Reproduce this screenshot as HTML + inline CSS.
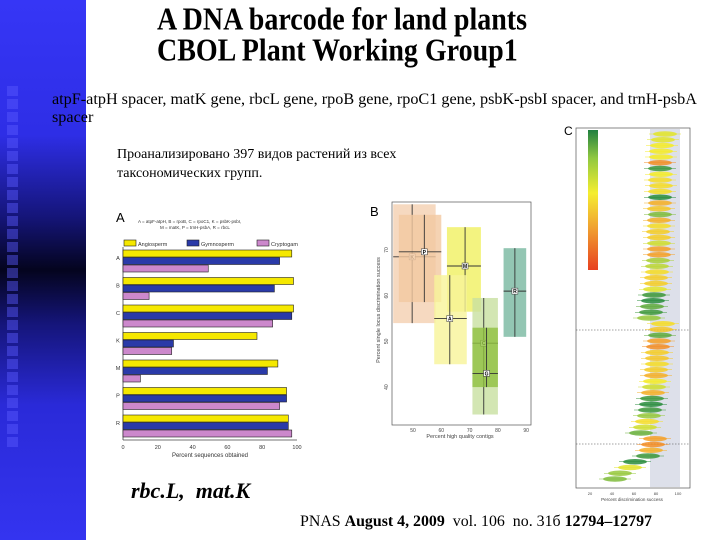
<!DOCTYPE html>
<html><head><meta charset="utf-8"><style>
body{margin:0;width:720px;height:540px;position:relative;background:#fff;overflow:hidden;font-family:"Liberation Serif",serif}
.t{position:absolute;white-space:nowrap}
</style></head><body>
<div style="position:absolute;left:0;top:0;width:86px;height:540px;background:linear-gradient(180deg,#3636f6 0%,#2e2ee6 25%,#15157a 40%,#04041e 50%,#15157a 60%,#2a2ad8 75%,#3434f0 100%)"></div>
<svg width="86" height="540" style="position:absolute;left:0;top:0" id="sq"></svg>
<div class="t" style="left:157px;top:2px;font-size:28px;font-weight:bold;transform:scaleY(1.15);transform-origin:0 0">A DNA barcode for land plants</div>
<div class="t" style="left:157px;top:33px;font-size:28px;font-weight:bold;transform:scaleY(1.15);transform-origin:0 0">CBOL Plant Working Group1</div>
<div class="t" style="left:52px;top:90px;font-size:16.2px;line-height:18px;color:#000">atpF-atpH spacer, matK gene, rbcL gene, rpoB gene, rpoC1 gene, psbK-psbI spacer, and trnH-psbA<br>spacer</div>
<div class="t" style="left:117px;top:145px;font-size:14px;line-height:19px;font-family:'Liberation Serif','Noto Serif CJK SC',serif">Проанализировано 397 видов растений из всех<br>таксономических групп.</div>
<div class="t" style="left:131px;top:478px;font-size:22px;font-weight:bold;font-style:italic">rbc.L,&nbsp; mat.K</div>
<div class="t" style="left:300px;top:513px;font-size:15.9px">PNAS <b>August 4, 2009</b> &nbsp;vol. 106 &nbsp;no. 31б <b>12794–12797</b></div>

<svg id="ca" width="720" height="540" style="position:absolute;left:0;top:0;font-family:'Liberation Sans',sans-serif"></svg>
<script>
const NS="http://www.w3.org/2000/svg";
function mk(p,t,a){const e=document.createElementNS(NS,t);for(const k in a)e.setAttribute(k,a[k]);p.appendChild(e);return e;}
const sq=document.getElementById('sq');
for(let y=86;y<440;y+=13){const r=mk(sq,'rect',{x:7,y:y,width:11,height:10,fill:'rgba(90,90,255,0.45)'});

}
const svg=document.getElementById('ca');

// Panel A data
const catA=['A','B','C','K','M','P','R'];
const angio=[97,98,98,77,89,94,95];
const gymno=[90,87,97,29,83,94,95];
const crypto=[49,15,86,28,10,90,97];
const ticksA=[0,20,40,60,80,100];
const ax=v=>123+v*1.74, ay=i=>250+i*27.5;
mk(svg,'text',{x:116,y:222,'font-size':13}).textContent='A';
let tt=mk(svg,'text',{x:138,y:223,'font-size':4.5,fill:'#333'});tt.textContent='A = atpF-atpH, B = rpoB, C = rpoC1, K = psbK-psbI,';
tt=mk(svg,'text',{x:160,y:229,'font-size':4.5,fill:'#333'});tt.textContent='M = matK, P = trnH-psbA, R = rbcL';
[['#f5e800','Angiosperm',124],['#2a3aa8','Gymnosperm',187],['#cc88cc','Cryptogam',257]].forEach(l=>{
 const r=mk(svg,'rect',{x:l[2],y:240,width:12,height:6,fill:l[0],stroke:'#222','stroke-width':0.6});
 
 mk(svg,'text',{x:l[2]+14,y:246,'font-size':5.5,fill:'#333'}).textContent=l[1];});
mk(svg,'line',{x1:ax(0),y1:247,x2:ax(0),y2:440,stroke:'#444','stroke-width':0.8});
mk(svg,'line',{x1:ax(0),y1:440,x2:ax(100),y2:440,stroke:'#444','stroke-width':0.8});
ticksA.forEach(t=>{mk(svg,'text',{x:ax(t),y:449,'font-size':5.5,'text-anchor':'middle',fill:'#333'}).textContent=t;});
mk(svg,'text',{x:ax(50),y:457,'font-size':6,'text-anchor':'middle',fill:'#333'}).textContent='Percent sequences obtained';
catA.forEach((c,i)=>{
 mk(svg,'text',{x:118,y:ay(i)+10,'font-size':5.5,'text-anchor':'middle',fill:'#333'}).textContent=c;
 [[angio,'#f5e800'],[gymno,'#2a3aa8'],[crypto,'#cc88cc']].forEach((s,j)=>{
  const r=mk(svg,'rect',{x:ax(0),y:ay(i)+j*7.5,width:ax(s[0][i])-ax(0),height:7,fill:s[1],stroke:'#222','stroke-width':0.6});
  
  
 });
});

// Panel B data
const genesB=['K','P','M','A','R','C','G'];
const bx=[49.7,54,68.4,63,86,75,76];
const by=[68.5,69.6,66.5,55,61,49.6,43];
const bxLo=[43,45,62,57.5,82,71,71];
const bxHi=[58,60,74,69,90,80,80];
const byLo=[54,58.6,56.5,45,51,34,40];
const byHi=[80,77.7,75,64.5,70.4,59.5,53];
const bcol=['#f4d0b0','#f2c8a0','#f0f060','#f8f498','#78b8a0','#c8e0a0','#90c040'];
const ticksBx=[50,60,70,80,90], ticksBy=[40,50,60,70];
const X=v=>413+(v-50)*2.83, Y=v=>250-(v-70)*4.57;
mk(svg,'text',{x:370,y:216,'font-size':13}).textContent='B';
mk(svg,'rect',{x:392,y:202,width:139,height:223,fill:'none',stroke:'#555','stroke-width':0.7});
ticksBx.forEach(t=>mk(svg,'text',{x:X(t),y:432,'font-size':5,'text-anchor':'middle',fill:'#444'}).textContent=t);
ticksBy.forEach(t=>{const e=mk(svg,'text',{x:388,y:Y(t),'font-size':5,'text-anchor':'middle',fill:'#444',transform:`rotate(-90 388 ${Y(t)})`});e.textContent=t;});
mk(svg,'text',{x:460,y:438,'font-size':5.5,'text-anchor':'middle',fill:'#444'}).textContent='Percent high quality contigs';
mk(svg,'text',{x:380,y:310,'font-size':5.5,'text-anchor':'middle',fill:'#444',transform:'rotate(-90 380 310)'}).textContent='Percent single locus discrimination success';
genesB.forEach((g,i)=>{
 const r=mk(svg,'rect',{x:X(bxLo[i]),y:Y(byHi[i]),width:X(bxHi[i])-X(bxLo[i]),height:Y(byLo[i])-Y(byHi[i]),fill:bcol[i],opacity:0.8});
 
 
 mk(svg,'line',{x1:X(bx[i]),y1:Y(byHi[i]),x2:X(bx[i]),y2:Y(byLo[i]),stroke:'#333','stroke-width':0.9});
 mk(svg,'line',{x1:X(bxLo[i]),y1:Y(by[i]),x2:X(bxHi[i]),y2:Y(by[i]),stroke:'#333','stroke-width':0.9});
 mk(svg,'rect',{x:X(bx[i])-3,y:Y(by[i])-3,width:6,height:6,fill:'#fff',stroke:'#333','stroke-width':0.5});
 mk(svg,'text',{x:X(bx[i]),y:Y(by[i])+2,'font-size':5,'font-weight':'bold','text-anchor':'middle'}).textContent=g;
});

// Panel C data
const cVals=[90,88,87,86,86,85,85,86,85,86,85,85,85,84,85,84,84,83,84,84,84,84,83,82,82,81,81,80,79,78,77,76,74,
 88,86,85,84,83,82,82,82,81,81,80,79,78,77,76,75,74,72,70,66,
 80,78,76,73,60,55,45,40];
const cSucc=[62,62,60,60,60,48,78,60,58,58,58,80,52,55,72,52,58,56,56,64,50,50,68,66,58,56,56,62,78,80,75,78,70,
 58,55,75,50,48,56,55,58,56,52,60,64,52,78,80,78,70,58,64,74,
 50,48,52,78,80,62,70,72];
const ticksC=[20,40,60,80,100];
const CX=v=>575+v*1.0, CY=i=>134+i*5.75;
function sc(s){const stops=[[40,[235,70,30]],[50,[245,160,40]],[60,[245,235,40]],[70,[150,200,60]],[80,[40,140,60]]];
 for(let k=0;k<stops.length-1;k++){const a=stops[k],b=stops[k+1];if(s<=b[0]){const f=Math.max(0,(s-a[0])/(b[0]-a[0]));return 'rgb('+a[1].map((c,j)=>Math.round(c+(b[1][j]-c)*f)).join(',')+')';}}
 return 'rgb(40,140,60)';}
mk(svg,'text',{x:564,y:135,'font-size':12}).textContent='C';
mk(svg,'rect',{x:576,y:128,width:114,height:360,fill:'none',stroke:'#555','stroke-width':0.7});
mk(svg,'rect',{x:650,y:129,width:30,height:358,fill:'#dde0ea'});
const gd=mk(svg,'linearGradient',{id:'cb',x1:0,y1:1,x2:0,y2:0});
[['0','#e84020'],['0.3','#f0a030'],['0.55','#f5ee30'],['0.8','#90c840'],['1','#208040']].forEach(s=>mk(gd,'stop',{offset:s[0],'stop-color':s[1]}));
const cb=mk(svg,'rect',{x:588,y:130,width:10,height:140,fill:'url(#cb)'});

mk(svg,'line',{x1:576,y1:330,x2:690,y2:330,stroke:'#444','stroke-dasharray':'1.5,1.5','stroke-width':0.6});
mk(svg,'line',{x1:576,y1:444,x2:690,y2:444,stroke:'#444','stroke-dasharray':'1.5,1.5','stroke-width':0.6});
cVals.forEach((v,i)=>{
 const col=sc(cSucc[i]);
 mk(svg,'line',{x1:CX(v-16),y1:CY(i),x2:CX(v+16),y2:CY(i),stroke:col,'stroke-width':0.6});
 const e=mk(svg,'ellipse',{cx:CX(v),cy:CY(i),rx:12,ry:2.7,fill:col,opacity:0.85});
 
 
});
ticksC.forEach(t=>mk(svg,'text',{x:CX(t-5)+(t-20)*0.1,y:495,'font-size':4,'text-anchor':'middle',fill:'#444'}).textContent=t);
mk(svg,'text',{x:632,y:501,'font-size':4.5,'text-anchor':'middle',fill:'#444'}).textContent='Percent discrimination success';
</script>
</body></html>
